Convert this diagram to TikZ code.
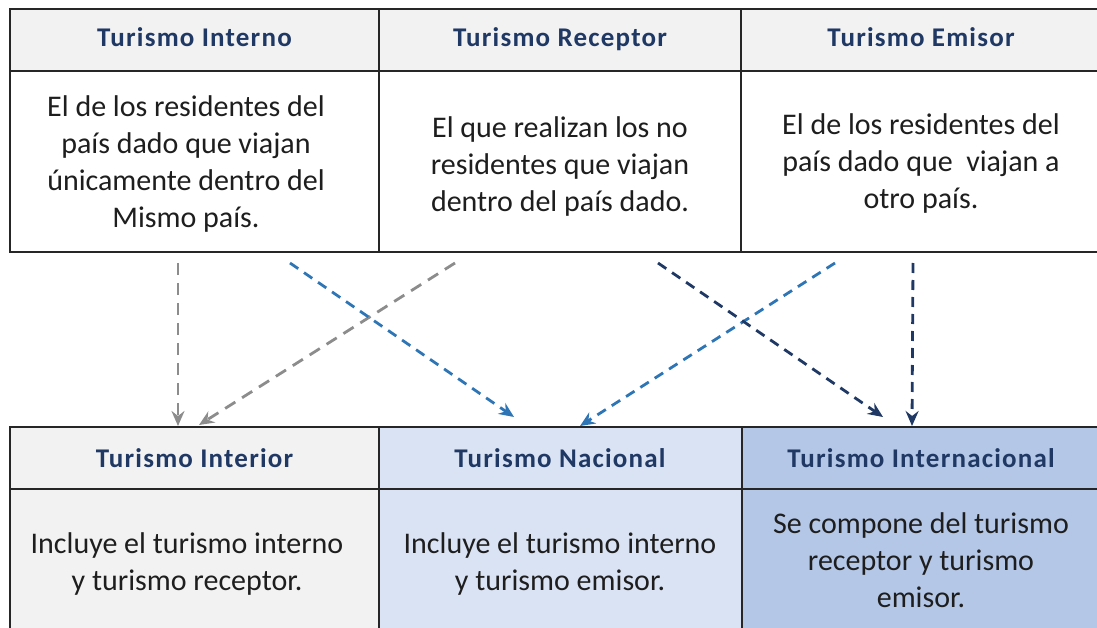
\documentclass[tikz,border=0pt]{standalone}
\usepackage{fontspec}
\setmainfont{Carlito}
\newfontfamily\hdrfont[LetterSpace=4.5]{Carlito}
\usetikzlibrary{arrows.meta}
\definecolor{hdrblue}{HTML}{1F3864}
\definecolor{cellgray}{HTML}{F2F2F2}
\definecolor{cellblue}{HTML}{DAE3F3}
\definecolor{cellblueb}{HTML}{B4C7E7}
\definecolor{arrgray}{HTML}{8C8C8C}
\definecolor{arrlblue}{HTML}{2E75B6}
\definecolor{arrdblue}{HTML}{1F3864}
\definecolor{txt}{HTML}{1E1E1E}
\definecolor{rule}{HTML}{262626}
\tikzset{
  hdr/.style={inner sep=0pt, anchor=base, text=hdrblue, font=\hdrfont\fontsize{27}{31}\selectfont\bfseries},
  body/.style={inner sep=0pt, anchor=center, align=center, text=txt, font=\fontsize{30}{37}\selectfont},
  gridline/.style={draw=rule, line width=1.4pt},
  conn/.style={line width=2.8pt, -{Stealth[length=15pt,width=13pt,inset=5pt]}},
  connA/.style={conn, draw=arrgray, dash pattern=on 12pt off 8pt},
  connB/.style={conn, draw=arrlblue, dash pattern=on 10pt off 7pt},
  connC/.style={conn, draw=arrdblue, dash pattern=on 10pt off 7pt},
}
\begin{document}
\begin{tikzpicture}[x=1pt,y=-1pt]
\useasboundingbox (0,0) rectangle (1097,628);
% fills
\fill[cellgray] (10,9) rectangle (1097,71);
\fill[white] (10,71) rectangle (1097,252);
\fill[cellgray] (10,427) rectangle (379,628);
\fill[cellblue] (379,427) rectangle (742,628);
\fill[cellblueb] (742,427) rectangle (1097,628);
% grid lines
\draw[gridline] (1097,9) -- (10,9) -- (10,252) -- (1097,252);
\draw[gridline] (10,71) -- (1097,71);
\draw[gridline] (379,9) -- (379,252);
\draw[gridline] (741,9) -- (741,252);
\draw[gridline] (1097,427) -- (10,427) -- (10,628);
\draw[gridline] (10,489) -- (1097,489);
\draw[gridline] (379,427) -- (379,628);
\draw[gridline] (742,427) -- (742,628);
% top headers
\node[hdr] (h1) at (194.5,47) {Turismo Interno};
\node[hdr] (h2) at (560,47) {Turismo Receptor};
\node[hdr] (h3) at (921,47) {Turismo Emisor};
% top bodies
\node[body] (b1) at (186,164) {El de los residentes del\\país dado que viajan\\únicamente dentro del\\Mismo país.};
\node[body] (b2) at (560,167) {El que realizan los no\\residentes que viajan\\dentro del país dado.};
\node[body] (b3) at (921,164) {El de los residentes del\\país dado que~ viajan a\\otro país.};
% bottom headers
\node[hdr] (g1) at (194.5,467) {Turismo Interior};
\node[hdr] (g2) at (560,467) {Turismo Nacional};
\node[hdr] (g3) at (921,467) {Turismo Internacional};
% bottom bodies
\node[body] (c1) at (187,564) {Incluye el turismo interno\\y turismo receptor.};
\node[body] (c2) at (560,564) {Incluye el turismo interno\\y turismo emisor.};
\node[body] (c3) at (921,560) {Se compone del turismo\\receptor y turismo\\emisor.};
% connector ends
\coordinate (s1) at (178,263);  \coordinate (e1) at (178,426);
\coordinate (s2) at (455,263);  \coordinate (e2) at (199,425);
\coordinate (s3) at (290,263);  \coordinate (e3) at (514,417);
\coordinate (s4) at (835,263);  \coordinate (e4) at (580,426);
\coordinate (s5) at (658,263);  \coordinate (e5) at (883,417);
\coordinate (s6) at (913,263);  \coordinate (e6) at (912,426);
\draw[connA] (s1) -- (e1);
\draw[connA] (s2) -- (e2);
\draw[connB] (s3) -- (e3);
\draw[connB] (s4) -- (e4);
\draw[connC] (s5) -- (e5);
\draw[connC] (s6) -- (e6);
\end{tikzpicture}
\end{document}
